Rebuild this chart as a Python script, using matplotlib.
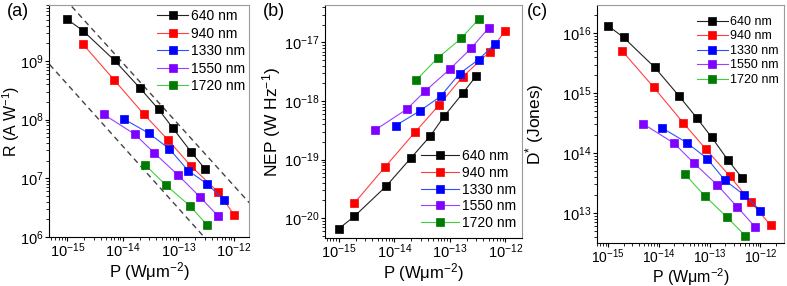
import matplotlib
matplotlib.use('Agg')
import matplotlib.pyplot as plt
from matplotlib.ticker import LogLocator, FixedLocator, NullFormatter, LogFormatterSciNotation

plt.rcParams['font.family'] = ['Liberation Sans', 'DejaVu Sans']
plt.rcParams['mathtext.fontset'] = 'custom'
plt.rcParams['mathtext.rm'] = 'Liberation Sans'
plt.rcParams['mathtext.it'] = 'Liberation Sans:italic'
plt.rcParams['mathtext.default'] = 'regular'

#####################################
# data
labels = ['640 nm', '940 nm', '1330 nm', '1550 nm', '1720 nm']
marker_colors = ['#000000', '#ff0000', '#0000ff', '#8000ff', '#007a00']
line_colors = ['#222222', '#ff4040', '#3050ff', '#9a40ff', '#40d040']

# incident power density (W um^-2) as placed in panels (a) and (b)
P_640 = [1.0e-15, 1.9e-15, 7.1e-15, 2.0e-14, 4.4e-14, 7.9e-14, 1.7e-13, 3.0e-13]
P_940 = [1.9e-15, 6.9e-15, 2.4e-14, 6.5e-14, 1.7e-13, 5.2e-13, 1.0e-12]
P_1330 = [1.05e-14, 2.9e-14, 6.8e-14, 1.5e-13, 3.3e-13, 6.5e-13]
P_1550 = [4.5e-15, 1.66e-14, 3.6e-14, 1.0e-13, 2.4e-13, 5.1e-13]
P_1720 = [2.5e-14, 6.0e-14, 1.6e-13, 3.3e-13]

# power density as placed in panel (c)
Pc_640 = [1.0e-15, 2.0e-15, 8.2e-15, 2.5e-14, 5.5e-14, 1.1e-13, 2.3e-13, 4.3e-13]
Pc_940 = [1.9e-15, 7.8e-15, 3.0e-14, 8.5e-14, 2.5e-13, 6.6e-13, 1.6e-12]
Pc_1330 = [1.17e-14, 3.5e-14, 8.9e-14, 2.0e-13, 4.8e-13, 1.0e-12]
Pc_1550 = [4.8e-15, 2.0e-14, 4.8e-14, 1.4e-13, 3.5e-13, 7.8e-13]
Pc_1720 = [3.2e-14, 7.9e-14, 2.2e-13, 5.0e-13]

# (a) responsivity
R_640 = [5.1e9, 3.3e9, 1.02e9, 3.5e8, 1.5e8, 7.2e7, 2.8e7, 1.45e7]
R_940 = [1.95e9, 4.8e8, 1.23e8, 4.5e7, 1.6e7, 5.8e6, 2.4e6]
R_1330 = [1.02e8, 5.9e7, 3.2e7, 1.35e7, 8.0e6, 4.3e6]
R_1550 = [1.23e8, 5.6e7, 2.75e7, 1.12e7, 4.9e6, 2.3e6]
R_1720 = [1.7e7, 7.6e6, 3.4e6, 1.6e6]

# dashed guide lines in (a)
guide_upper_P = [1.2e-15, 1.9e-12]
guide_upper_R = [8.5e9, 3.8e6]
guide_lower_P = [4.8e-16, 2.9e-13]
guide_lower_R = [8.7e8, 1.0e6]

# (b) NEP
NEP_640 = [6.6e-21, 1.07e-20, 3.5e-20, 1.07e-19, 2.5e-19, 5.5e-19, 1.35e-18, 2.7e-18]
NEP_940 = [1.8e-20, 7.6e-20, 3.0e-19, 8.7e-19, 2.6e-18, 6.9e-18, 1.6e-17]
NEP_1330 = [3.8e-19, 6.8e-19, 1.2e-18, 2.95e-18, 5.1e-18, 9.5e-18]
NEP_1550 = [3.2e-19, 7.2e-19, 1.48e-18, 3.5e-18, 7.9e-18, 1.8e-17]
NEP_1720 = [2.3e-18, 5.4e-18, 1.17e-17, 2.5e-17]

# (c) detectivity
D_640 = [1.32e16, 8.5e15, 2.7e15, 8.9e14, 3.9e14, 1.82e14, 7.6e13, 3.9e13]
D_940 = [5.0e15, 1.26e15, 3.2e14, 1.15e14, 4.1e13, 1.5e13, 6.2e12]
D_1330 = [2.6e14, 1.5e14, 8.1e13, 3.5e13, 2.0e13, 1.1e13]
D_1550 = [3.1e14, 1.45e14, 6.9e13, 2.95e13, 1.26e13, 5.9e12]
D_1720 = [4.5e13, 1.95e13, 8.5e12, 4.2e12]

# major tick positions
P_ticks = [1e-15, 1e-14, 1e-13, 1e-12]
R_ticks = [1e6, 1e7, 1e8, 1e9]
NEP_ticks = [1e-20, 1e-19, 1e-18, 1e-17]
D_ticks = [1e13, 1e14, 1e15, 1e16]

P_all = [P_640, P_940, P_1330, P_1550, P_1720]
Pc_all = [Pc_640, Pc_940, Pc_1330, Pc_1550, Pc_1720]
R_all = [R_640, R_940, R_1330, R_1550, R_1720]
NEP_all = [NEP_640, NEP_940, NEP_1330, NEP_1550, NEP_1720]
D_all = [D_640, D_940, D_1330, D_1550, D_1720]
#####################################

W, H = 787, 286
fig = plt.figure(figsize=(W / 100, H / 100), dpi=100)


def make_axes(left, right, top, bottom):
    return fig.add_axes([left / W, (H - bottom) / H, (right - left) / W, (bottom - top) / H])


def style_axes(ax, xlim, ylim, yticks):
    ax.set_xscale('log')
    ax.set_yscale('log')
    ax.set_xlim(xlim)
    ax.set_ylim(ylim)
    ax.xaxis.set_major_locator(FixedLocator(P_ticks))
    ax.yaxis.set_major_locator(FixedLocator(yticks))
    ax.xaxis.set_major_formatter(LogFormatterSciNotation())
    ax.yaxis.set_major_formatter(LogFormatterSciNotation())
    ax.xaxis.set_minor_locator(LogLocator(base=10, subs=range(2, 10), numticks=20))
    ax.xaxis.set_minor_formatter(NullFormatter())
    ax.yaxis.set_minor_locator(LogLocator(base=10, subs=range(2, 10), numticks=20))
    ax.yaxis.set_minor_formatter(NullFormatter())
    ax.tick_params(which='major', direction='out', length=3, width=0.8, labelsize=10.5, pad=1)
    ax.tick_params(axis='x', which='major', pad=0.5)
    ax.tick_params(which='minor', direction='out', length=2, width=0.6)
    for s in ['top', 'right']:
        ax.spines[s].set_color('#9a9a9a')
    ax.set_xlabel('P (Wμm$^{-2}$)', fontsize=12)


def draw(ax, xs, ys):
    for P, Y, lab, mc, lc in zip(xs, ys, labels, marker_colors, line_colors):
        ax.plot(P, Y, '-', color=lc, lw=0.8, marker='s', ms=6, mfc=mc, mec=mc, mew=0.5, label=lab)


####### (a) responsivity ########
ax0 = make_axes(49, 249, 5, 237)
style_axes(ax0, (10 ** -15.33, 10 ** -11.73), (1e6, 9e9), R_ticks)
ax0.plot(guide_upper_P, guide_upper_R, '--', color='#444444', lw=1.0, dashes=(4, 3))
ax0.plot(guide_lower_P, guide_lower_R, '--', color='#444444', lw=1.0, dashes=(4, 3))
draw(ax0, P_all, R_all)
ax0.set_ylabel('R (A W$^{-1}$)', fontsize=11.5)
ax0.yaxis.set_label_coords(-0.137, 0.5)
ax0.xaxis.set_label_coords(0.5, -0.1)
ax0.legend(loc='upper right', bbox_to_anchor=(1.0, 1.0), frameon=False, fontsize=10,
           handlelength=2.2, handletextpad=0.2, labelspacing=0.25, borderpad=0.2, borderaxespad=0.1)
fig.text(7 / W, 1 - 12 / H, '(a)', fontsize=13, va='center')

####### (b) NEP ########
ax1 = make_axes(325, 522, 5, 238)
style_axes(ax1, (10 ** -15.25, 10 ** -11.70), (10 ** -20.34, 10 ** -16.36), NEP_ticks)
draw(ax1, P_all, NEP_all)
ax1.set_ylabel('NEP (W Hz$^{-1}$)', fontsize=12.5)
ax1.yaxis.set_label_coords(-0.215, 0.5)
ax1.xaxis.set_label_coords(0.5, -0.1)
ax1.legend(loc='lower right', bbox_to_anchor=(1.0, 0.01), frameon=False, fontsize=10,
           handlelength=2.8, handletextpad=0.2, labelspacing=0.2, borderpad=0.3, borderaxespad=0.1)
fig.text(263 / W, 1 - 12 / H, '(b)', fontsize=13, va='center')

####### (c) detectivity ########
ax2 = make_axes(597, 784, 5, 243)
style_axes(ax2, (10 ** -15.223, 10 ** -11.535), (10 ** 12.5, 10 ** 16.47), D_ticks)
ax2.tick_params(axis='x', which='major', labelsize=10)
draw(ax2, Pc_all, D_all)
ax2.set_ylabel('D$^{*}$ (Jones)', fontsize=12.5)
ax2.yaxis.set_label_coords(-0.275, 0.5)
ax2.set_xlabel('P (Wμm$^{-2}$)', fontsize=11.5)
ax2.xaxis.set_label_coords(0.5, -0.097)
ax2.legend(loc='upper right', bbox_to_anchor=(1.0, 0.975), frameon=False, fontsize=9,
           handlelength=2.5, handletextpad=0.2, labelspacing=0.2, borderpad=0.3, borderaxespad=0.1)
fig.text(527 / W, 1 - 12 / H, '(c)', fontsize=13, va='center')

fig.savefig('out.png', dpi=100)
